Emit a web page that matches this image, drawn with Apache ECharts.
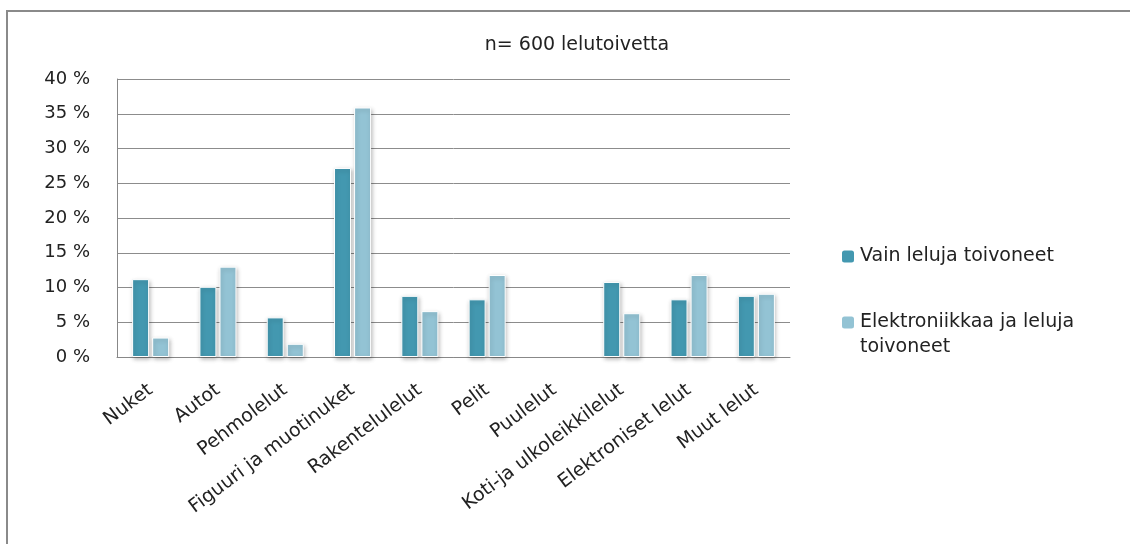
<!DOCTYPE html>
<html>
<head>
<meta charset="utf-8">
<script src="https://cdn.jsdelivr.net/npm/echarts@6/dist/echarts.min.js"></script>
<style>
  html, body { margin: 0; padding: 0; background: #fff; }
  #chart { width: 1130px; height: 544px; }
</style>
</head>
<body>
<div id="chart"></div>
<script>
// lelutoiveet, osuus prosentteina
const categories = ['Nuket', 'Autot', 'Pehmolelut', 'Figuuri ja muotinuket', 'Rakentelulelut',
  'Pelit', 'Puulelut', 'Koti-ja ulkoleikkilelut', 'Elektroniset lelut', 'Muut lelut'];
const seriesNames = ['Vain leluja toivoneet', 'Elektroniikkaa ja leluja toivoneet'];
const vainLeluja = [11.2, 10.1, 5.7, 27.2, 8.8, 8.3, 0, 10.8, 8.3, 8.8];
const elektroniikkaaJaLeluja = [2.8, 13.0, 1.9, 35.9, 6.6, 11.8, 0, 6.3, 11.8, 9.1];
const yTicks = { min: 0, max: 40, interval: 5 };

const font = 'DejaVu Sans';
const colors = ['#4398b0', '#93c3d4'];

const chart = echarts.init(document.getElementById('chart'));

function barSeries(name, data, color) {
  return {
    name: name,
    type: 'bar',
    // nollat jätetään piirtämättä (muuten valkoinen reunus näkyy)
    data: data.map(v => (v === 0 ? '-' : v)),
    barWidth: 17,
    barGap: '18%',
    itemStyle: {
      color: color,
      borderColor: '#fff',
      borderWidth: 1,
      shadowBlur: 4,
      shadowColor: 'rgba(0,0,0,0.25)',
      shadowOffsetX: 1,
      shadowOffsetY: 2
    }
  };
}

const option = {
  animation: false,
  backgroundColor: '#fff',
  title: {
    text: 'n= 600 lelutoivetta',
    left: 572,
    textAlign: 'center',
    top: 31,
    textStyle: { fontFamily: font, fontSize: 19, fontWeight: 'normal', color: '#222' }
  },
  legend: [
    {
      data: [seriesNames[0]],
      left: 835,
      top: 242,
      itemWidth: 14,
      itemHeight: 14,
      textStyle: { fontFamily: font, fontSize: 19, color: '#222' }
    },
    {
      data: [seriesNames[1]],
      left: 835,
      top: 280,
      itemWidth: 14,
      itemHeight: 14,
      // tyhjä ensimmäinen rivi, jotta ikoni osuu ensimmäisen tekstirivin kohdalle
      formatter: function () { return '\nElektroniikkaa ja leluja\ntoivoneet'; },
      textStyle: { fontFamily: font, fontSize: 19, color: '#222', lineHeight: 25 }
    }
  ],
  grid: { left: 117, right: 340, top: 79, bottom: 187, containLabel: false },
  xAxis: {
    type: 'category',
    data: categories,
    axisLine: { show: true, lineStyle: { color: '#888', width: 1 } },
    axisTick: { show: false },
    axisLabel: {
      interval: 0,
      rotate: 37,
      margin: 31,
      fontFamily: font,
      fontSize: 19,
      color: '#222'
    }
  },
  yAxis: {
    type: 'value',
    min: yTicks.min,
    max: yTicks.max,
    interval: yTicks.interval,
    axisLine: { show: true, lineStyle: { color: '#888', width: 1 } },
    axisTick: { show: false },
    axisLabel: {
      margin: 27,
      fontFamily: font,
      fontSize: 18,
      color: '#222',
      formatter: function (v) { return v + ' %'; }
    },
    splitLine: { show: true, lineStyle: { color: '#8c8c8c', width: 1 } }
  },
  series: [
    barSeries(seriesNames[0], vainLeluja, colors[0]),
    barSeries(seriesNames[1], elektroniikkaaJaLeluja, colors[1])
  ],
  graphic: [
    {
      type: 'polyline',
      silent: true,
      shape: { points: [[7, 544], [7, 11], [1130, 11]] },
      style: { stroke: '#8a8a8a', lineWidth: 2, fill: null }
    }
  ]
};

chart.setOption(option);
</script>
</body>
</html>
